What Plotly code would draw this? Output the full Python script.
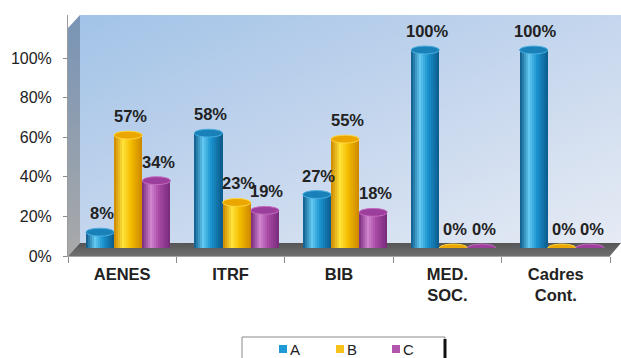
import base64
import numpy as np
import plotly.graph_objects as go

# ---- data -------------------------------------------------------------
categories = ["AENES", "ITRF", "BIB", "MED.<br>SOC.", "Cadres<br>Cont."]
series_names = ["A", "B", "C"]
values_a = [8, 58, 27, 100, 100]
values_b = [57, 23, 55, 0, 0]
values_c = [34, 19, 18, 0, 0]
y_ticks = [0, 20, 40, 60, 80, 100]

series_values = [values_a, values_b, values_c]

# ---- styling ----------------------------------------------------------
# (legend colour, edge shade, body shade, highlight, cap fill, cap rim)
palette = [
    ("#1e9ad6", "#0b5a8a", "#1b94d0", "#62c8f0", "#1a80b8", "#4aaee0"),
    ("#f7c31a", "#cc8600", "#f4bd00", "#ffe23a", "#eba600", "#ffd640"),
    ("#b057ad", "#772a7a", "#a84aa6", "#d084ce", "#9c3e9b", "#c46cc2"),
]

W, H = 621, 358
ML, MT = 68, 15          # plot-area left / top in px
FRONT_BOTTOM = 256       # px of 0% on the front axis
PLOT_W = W - ML          # 553
PLOT_H = FRONT_BOTTOM - MT  # 241
AXIS_W = 542             # width of the front category axis
PX_PER_PCT = 1.98
DEPTH_X, DEPTH_Y = 12, 13  # 3-D depth of the box
BAR_DX, BAR_DY = 6, 8      # bars sit half way into the box

bar_w = 0.26             # width of a cylinder in category units
cap_h = 2.0              # half height of the elliptic caps (in %)
n_slices = 14

FONT = "Liberation Sans, Arial, sans-serif"
LABEL_SIZE = 16.5


def hex2rgb(h):
    h = h.lstrip("#")
    return np.array([int(h[i:i + 2], 16) for i in (0, 2, 4)], dtype=float)


def mix(c1, c2, t):
    r = hex2rgb(c1) * (1 - t) + hex2rgb(c2) * t
    return "rgb(%d,%d,%d)" % tuple(np.round(r).astype(int))


def shade(edge, body, light, t):
    # lighting profile across the cylinder: edge -> highlight -> body -> edge
    if t < 0.32:
        return mix(edge, light, t / 0.32)
    if t < 0.6:
        return mix(light, body, (t - 0.32) / 0.28)
    return mix(body, edge, (t - 0.6) / 0.4)


def paper_x(px):
    return (px - ML) / PLOT_W


def paper_y(py):
    return (FRONT_BOTTOM - py) / PLOT_H


fig = go.Figure()

# invisible trace that carries the front category axis
fig.add_trace(go.Scatter(x=categories, y=[0] * len(categories), mode="markers",
                         marker=dict(opacity=0), showlegend=False,
                         hoverinfo="skip", xaxis="x", yaxis="y"))

idx = np.arange(len(categories))
shapes = []
annotations = []

for k, (name, vals) in enumerate(zip(series_names, series_values)):
    leg, edge, body, light, capf, capl = palette[k]
    centers = idx + (k - 1) * bar_w
    # main bar
    fig.add_trace(go.Bar(x=centers, y=vals, width=bar_w, name=name,
                         marker=dict(color=leg, line=dict(width=0)),
                         xaxis="x2", yaxis="y2", hoverinfo="y", showlegend=False))
    # shading slices across the cylinder
    dw = bar_w / n_slices
    for s in range(n_slices):
        t = (s + 0.5) / n_slices
        wslice = dw * (1.35 if s < n_slices - 1 else 1.0)
        fig.add_trace(go.Bar(x=centers - bar_w / 2 + s * dw, y=vals,
                             width=wslice, offset=0,
                             marker=dict(color=shade(edge, body, light, t),
                                         line=dict(width=0)),
                             showlegend=False, hoverinfo="skip",
                             xaxis="x2", yaxis="y2"))
    for c, v in zip(centers, vals):
        if v > 0:
            # rounded bottom of the cylinder
            shapes.append(dict(type="circle", xref="x2", yref="y2", layer="below",
                               x0=c - bar_w / 2, x1=c + bar_w / 2,
                               y0=-cap_h, y1=cap_h,
                               fillcolor=mix(body, edge, 0.3), line=dict(width=0)))
        # top cap
        shapes.append(dict(type="circle", xref="x2", yref="y2", layer="above",
                           x0=c - bar_w / 2, x1=c + bar_w / 2,
                           y0=v - cap_h, y1=v + cap_h,
                           fillcolor=capf, line=dict(color=capl, width=1)))
        annotations.append(dict(xref="x2", yref="y2", x=c, y=v,
                                text="<b>%d%%</b>" % v, showarrow=False,
                                yanchor="bottom", yshift=8, xshift=2,
                                font=dict(family=FONT, size=LABEL_SIZE, color="#222")))

# ---- 3-D box: back wall, side wall and floor ---------------------------
wx0, wy1 = DEPTH_X, PLOT_H - DEPTH_Y
svg = f"""<svg xmlns='http://www.w3.org/2000/svg' width='{PLOT_W}' height='{PLOT_H}'
 viewBox='0 0 {PLOT_W} {PLOT_H}' preserveAspectRatio='none'>
<defs>
<linearGradient id='wall' x1='0' y1='0' x2='1' y2='1'>
<stop offset='0' stop-color='#a2c3e7'/><stop offset='0.55' stop-color='#c8d8ee'/>
<stop offset='1' stop-color='#e6ebf4'/></linearGradient>
<linearGradient id='side' x1='0' y1='0' x2='0' y2='1'>
<stop offset='0' stop-color='#7894b6'/><stop offset='1' stop-color='#a9a9a9'/></linearGradient>
<linearGradient id='floor' x1='0' y1='0' x2='0' y2='1'>
<stop offset='0' stop-color='#555555'/><stop offset='1' stop-color='#707070'/></linearGradient>
</defs>
<rect x='{wx0}' y='0' width='{PLOT_W - wx0}' height='{wy1}' fill='url(#wall)'/>
<polygon points='0,{PLOT_H} {wx0},{wy1} {wx0},0 0,{DEPTH_Y}' fill='url(#side)'/>
<polygon points='0,{PLOT_H} {AXIS_W},{PLOT_H} {PLOT_W},{wy1} {wx0},{wy1}' fill='url(#floor)'/>
</svg>"""
svg_uri = "data:image/svg+xml;base64," + base64.b64encode(svg.encode()).decode()

# ---- legend: framed box with colour squares ------------------------------
shapes.append(dict(type="rect", xref="paper", yref="paper", layer="above",
                   x0=paper_x(242), x1=paper_x(445), y0=paper_y(337), y1=paper_y(362),
                   fillcolor="white", line=dict(color="#8a8a8a", width=1)))
shapes.append(dict(type="line", xref="paper", yref="paper", layer="above",
                   x0=paper_x(445), x1=paper_x(445), y0=paper_y(339), y1=paper_y(362),
                   line=dict(color="#111", width=3)))
legend_x = [279, 336, 392]
for k, name in enumerate(series_names):
    lx = legend_x[k]
    shapes.append(dict(type="rect", xref="paper", yref="paper", layer="above",
                       x0=paper_x(lx), x1=paper_x(lx + 8),
                       y0=paper_y(353), y1=paper_y(345),
                       fillcolor=palette[k][0], line=dict(width=0)))
    annotations.append(dict(xref="paper", yref="paper", x=paper_x(lx + 9),
                            y=paper_y(349), xanchor="left", yanchor="middle",
                            text=name, showarrow=False,
                            font=dict(family=FONT, size=15, color="#222")))

fig.update_layout(
    width=W, height=H, autosize=False,
    margin=dict(l=ML, r=0, t=MT, b=H - FRONT_BOTTOM, pad=0, autoexpand=False),
    paper_bgcolor="white", plot_bgcolor="rgba(0,0,0,0)",
    barmode="overlay", bargap=0,
    font=dict(family=FONT, size=15, color="#222"),
    images=[dict(source=svg_uri, xref="paper", yref="paper", x=0, y=1,
                 sizex=1, sizey=1, xanchor="left", yanchor="top",
                 sizing="stretch", layer="below")],
    shapes=shapes,
    annotations=annotations,
    xaxis=dict(type="category", categoryorder="array", categoryarray=categories,
               range=[-0.5, len(categories) - 0.5], domain=[0, AXIS_W / PLOT_W],
               tickson="boundaries", ticks="outside", ticklen=6, tickcolor="#8c8c8c",
               showline=True, linecolor="#a6a6a6", showgrid=False, zeroline=False,
               tickfont=dict(family=FONT, size=LABEL_SIZE, color="#222", weight="bold"),
               ticklabelstandoff=3, anchor="y", fixedrange=True, automargin=False),
    yaxis=dict(range=[0, PLOT_H / PX_PER_PCT], domain=[0, 1], tickvals=y_ticks,
               ticktext=["%d%%" % v for v in y_ticks], ticks="outside", ticklen=4,
               tickcolor="#8c8c8c", showline=True, linecolor="#9a9a9a",
               showgrid=False, zeroline=False, ticklabelstandoff=8,
               tickfont=dict(family=FONT, size=16, color="#222"),
               anchor="x", fixedrange=True, automargin=False),
    xaxis2=dict(range=[-0.5, len(categories) - 0.5],
                domain=[BAR_DX / PLOT_W, (AXIS_W + BAR_DX) / PLOT_W],
                visible=False, anchor="y2", fixedrange=True),
    yaxis2=dict(range=[0, (PLOT_H - BAR_DY) / PX_PER_PCT],
                domain=[BAR_DY / PLOT_H, 1], visible=False, anchor="x2",
                fixedrange=True),
    showlegend=False,
)

fig.write_html("out.html")
